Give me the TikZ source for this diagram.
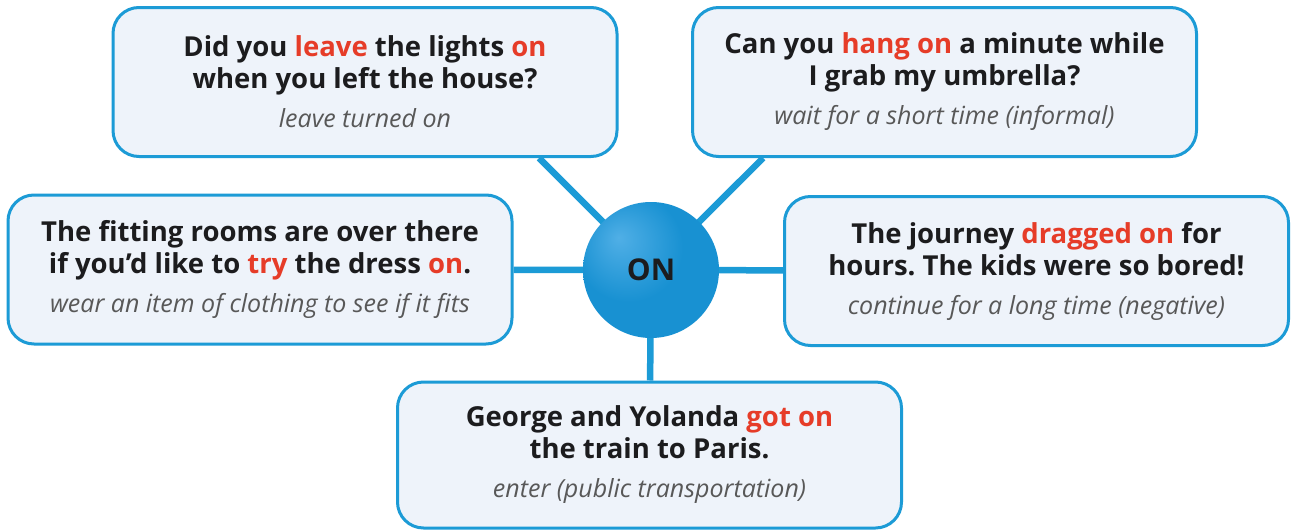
\documentclass[tikz,border=0pt]{standalone}
\usepackage{fontspec}
\setmainfont{Open Sans}
\usetikzlibrary{backgrounds}
\frenchspacing

\definecolor{onblue}{RGB}{28,155,214}
\definecolor{cardfill}{RGB}{238,243,250}
\definecolor{hilite}{RGB}{230,60,40}
\definecolor{glosstext}{RGB}{88,88,88}
\definecolor{ink}{RGB}{28,28,30}
\definecolor{ballhi}{RGB}{80,175,230}
\definecolor{ballmid}{RGB}{24,145,210}
\definecolor{balldark}{RGB}{14,105,170}

\pgfdeclareradialshading{onball}{\pgfpoint{-12bp}{12bp}}{%
  color(0bp)=(ballhi); color(20bp)=(ballmid); color(46bp)=(ballmid); color(64bp)=(balldark)}

\newcommand{\hi}[1]{\textcolor{hilite}{#1}}
\newcommand{\sense}[1]{{\mdseries\itshape\fontsize{25}{29}\selectfont\color{glosstext}#1}}

\begin{document}
\begin{tikzpicture}[
  x=1pt, y=-1pt,
  font=\fontsize{27.5}{32}\selectfont\bfseries,
  card/.style={draw=onblue, line width=3pt, fill=cardfill, rounded corners=26pt,
    align=center, text=ink, inner sep=0pt, minimum width=504pt, minimum height=149pt},
  hub/.style={circle, inner sep=0pt, minimum size=136pt, shading=onball,
    font=\fontsize{30}{30}\selectfont\bfseries, text=ink},
  link/.style={draw=onblue, line width=6.5pt}]

% ---------- frame
\useasboundingbox (0,0) rectangle (1293,530);

% ---------- centre
\node[hub] (on) at (651,270) {ON};

% ---------- example cards
\node[card] (leave) at (365,82)
  {Did you \hi{leave} the lights \hi{on}\\ when you left the house?\\[7pt] \sense{leave turned on}};
\node[card] (hang) at (944.5,82)
  {Can you \hi{hang on} a minute while\\ I grab my umbrella?\\[7pt] \sense{wait for a short time (informal)}};
\node[card] (try) at (260,269.5)
  {The fitting rooms are over there\\ if you’d like to \hi{try} the dress \hi{on}.\\[7pt] \sense{wear an item of clothing to see if it fits}};
\node[card] (drag) at (1036.5,271)
  {The journey \hi{dragged on} for\\ hours. The kids were so bored!\\[7pt] \sense{continue for a long time (negative)}};
\node[card, minimum height=146pt] (got) at (649.5,455)
  {George and Yolanda \hi{got on}\\ the train to Paris.\\[7pt] \sense{enter (public transportation)}};

% ---------- spokes
\begin{scope}[on background layer]
  \fill[white] (0,0) rectangle (1293,530);
  \draw[link] (on.center) -- (intersection of on.center--on.135 and leave.south west--leave.south east);
  \draw[link] (on.center) -- (intersection of on.center--on.45 and hang.south west--hang.south east);
  \draw[link] (on.center) -- (try);
  \draw[link] (on.center) -- (drag);
  \draw[link] (on.center) -- (got);
\end{scope}
\end{tikzpicture}
\end{document}
